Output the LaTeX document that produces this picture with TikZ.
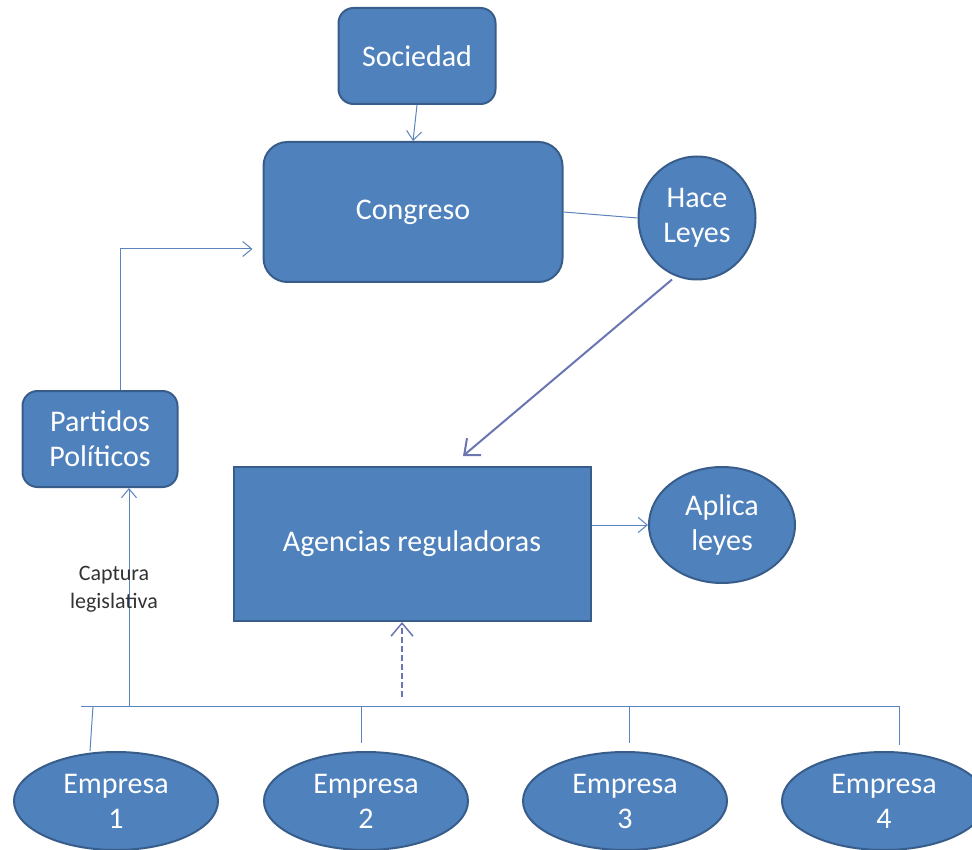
\documentclass[tikz,border=0pt]{standalone}
\usepackage{fontspec}
\setmainfont{Carlito}
\usepackage{tikz}
\definecolor{boxfill}{HTML}{4F81BD}
\definecolor{boxline}{HTML}{385D8A}
\definecolor{linkline}{HTML}{5B84BE}
\definecolor{lawline}{HTML}{6A76B2}
\tikzstyle{box}=[rectangle,rounded corners=15pt,line width=2pt,draw=boxline,
fill=boxfill,text=white,font=\fontsize{30}{35}\selectfont,align=center,inner sep=0pt]
\tikzstyle{oval}=[ellipse,line width=2pt,draw=boxline,fill=boxfill,text=white,
font=\fontsize{30}{35}\selectfont,align=center,inner sep=0pt]
\usetikzlibrary{arrows.meta,shapes.geometric}

\begin{document}
\begin{tikzpicture}[x=1pt,y=-1pt,>={Straight Barb[length=9pt,width=15pt]}]
  \tikzstyle{flat box}=[box,rounded corners=0pt]
  \tikzstyle{empresa}=[oval,minimum width=204pt,minimum height=98pt]
  \tikzstyle{link}=[draw=linkline,line width=1pt]
  \tikzstyle{law link}=[draw=lawline,line width=2pt,
        >={Straight Barb[length=13pt,width=22pt]}]

  \useasboundingbox (0,0) rectangle (972,850);

  % top part
  \node[box,minimum width=157pt,minimum height=96pt] (soc) at (417,56) {Sociedad};
  \node[box,rounded corners=24pt,minimum width=299pt,minimum height=140pt] (cong) at (413,212) {Congreso};
  \node[oval,minimum width=117pt,minimum height=123pt] (hace) at (697,218) {Hace\\Leyes};
  \node[box,minimum width=155pt,minimum height=96pt] (part) at (100,439) {Partidos\\Políticos};
  \node[flat box,minimum width=357pt,minimum height=154pt] (agen) at (412,544) {Agencias reguladoras};
  \node[oval,minimum width=146pt,minimum height=116pt] (aplica) at (722,525) {Aplica\\leyes};

  % empresas
  \node[empresa] (emp1) at (116,801) {Empresa\\1};
  \node[empresa] (emp2) at (366,801) {Empresa\\2};
  \node[empresa] (emp3) at (625,801) {Empresa\\3};
  \node[empresa] (emp4) at (884,801) {Empresa\\4};

  \coordinate (busL) at (81,706);
  \coordinate (busR) at (899,706);
  \coordinate (capt) at (129,706);
  \coordinate (d2) at (361,743);
  \coordinate (d3) at (629,743);
  \coordinate (d4) at (899,745);
  \coordinate (regul) at (402,697);

  \draw[link,->] (soc.south) -- (cong.north);
  \draw[link] (cong.east) -- (hace.west);
  \draw[link,->] ([xshift=20pt]part.north) |- ([xshift=-10pt,yshift=-37pt]cong.west);
  \draw[law link,->] ([xshift=-25pt,yshift=1pt]hace.south) -- ([xshift=51pt,yshift=10pt]agen.north);
  \draw[link,->] ([yshift=19pt]agen.east) -- (aplica.west);

  % captura
  \draw[link] (busL) -- (busR);
  \draw[link,->] (capt) -- (capt |- part.south);
  \node[text=black!80,font=\fontsize{22}{28}\selectfont,align=center] (captlbl) at (114,589) {Captura\\legislativa};
  \draw[law link,line width=1.5pt,dash pattern=on 6pt off 3pt,->] (regul) -- ([xshift=-10pt]agen.south);

  \draw[link] (93,706) -- ([xshift=-26pt]emp1.north);
  \draw[link] (d2 |- busL) -- (d2);
  \draw[link] (d3 |- busL) -- (d3);
  \draw[link] (d4 |- busL) -- (d4);
\end{tikzpicture}
\end{document}
